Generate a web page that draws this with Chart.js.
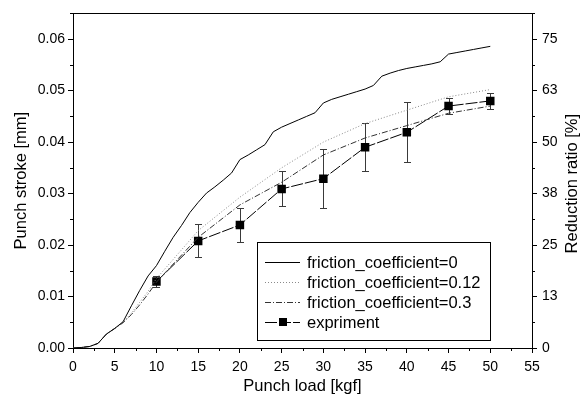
<!DOCTYPE html>
<html><head><meta charset="utf-8">
<script src="https://cdn.jsdelivr.net/npm/chart.js@4.4.1/dist/chart.umd.min.js"></script>
<style>html,body{margin:0;padding:0;background:#fff}#wrap{width:583px;height:403px;position:relative}</style>
</head><body><div id="wrap"><canvas id="c" width="583" height="403"></canvas></div>
<script>
// ---- data ----
const xTicks = [0,5,10,15,20,25,30,35,40,45,50,55];
const yTicks = [0,0.01,0.02,0.03,0.04,0.05,0.06];
const ratioLabels = ['0','13','25','38','50','63','75'];

const loadF0 = [0,1,2,3,4,5,6,7,8,9,10,11,12,13,14,15,16,17,18,19,20,21,22,23,24,25,26,27,28,29,30,31,32,33,34,35,36,37,38,39,40,41,42,43,44,45,46,47,48,49,50];
const strokeF0 = [0,0.0001,0.0003,0.0009,0.0027,0.0038,0.0051,0.0082,0.0112,0.0140,0.0160,0.0188,0.0215,0.0238,0.0263,0.0283,0.0301,0.0313,0.0326,0.0340,0.0366,0.0375,0.0385,0.0395,0.0420,0.0429,0.0436,0.0443,0.0450,0.0457,0.0476,0.0483,0.0488,0.0493,0.0498,0.0503,0.0510,0.0528,0.0534,0.0539,0.0543,0.0546,0.0549,0.0552,0.0556,0.0571,0.0574,0.0577,0.0580,0.0583,0.0586];

const loadF = [0,1,2,3,4,5,6,7,8,9,10,12,15,20,25,30,35,40,45,50];
const strokeF012 = [0,0.0001,0.0003,0.0009,0.0027,0.0038,0.0050,0.0068,0.0089,0.0110,0.0135,0.0172,0.0228,0.0293,0.0350,0.0400,0.0436,0.0462,0.0488,0.0502];
const strokeF03  = [0,0.0001,0.0003,0.0009,0.0027,0.0038,0.0049,0.0065,0.0084,0.0105,0.0128,0.0163,0.0215,0.0278,0.0322,0.0375,0.0408,0.0432,0.0456,0.0470];

const loadExp = [10,15,20,25,30,35,40,45,50];
const strokeExp = [0.0129,0.0208,0.0239,0.0309,0.0329,0.0390,0.0419,0.0470,0.0480];
const errExp = [0.0011,0.0032,0.0033,0.0034,0.0058,0.0047,0.0058,0.0015,0.0015];

const seriesLabels = ['friction_coefficient=0','friction_coefficient=0.12','friction_coefficient=0.3','expriment'];
const xTitle = 'Punch load [kgf]';
const yTitle = 'Punch stroke [mm]';
const y2Title = 'Reduction ratio [%]';

const FONT = "'Liberation Sans', Arial, sans-serif";
const pts = (xs, ys) => xs.map((x,i)=>({x, y: ys[i]}));

const deco = {
  id: 'deco',
  beforeDatasetsDraw(chart){
    const ctx = chart.ctx, xs = chart.scales.x, ys = chart.scales.y;
    ctx.save();
    ctx.strokeStyle = '#3a3a3a'; ctx.lineWidth = 1;
    loadExp.forEach((l,i)=>{
      const px = Math.round(xs.getPixelForValue(l)) + 0.5;
      const top = Math.round(ys.getPixelForValue(strokeExp[i] + errExp[i])) + 0.5;
      const bot = Math.round(ys.getPixelForValue(strokeExp[i] - errExp[i])) + 0.5;
      ctx.beginPath();
      ctx.moveTo(px, top); ctx.lineTo(px, bot);
      ctx.moveTo(px-3.5, top); ctx.lineTo(px+3.5, top);
      ctx.moveTo(px-3.5, bot); ctx.lineTo(px+3.5, bot);
      ctx.stroke();
    });
    ctx.restore();
  },
  afterDraw(chart){
    const ctx = chart.ctx, a = chart.chartArea, xs = chart.scales.x, ys = chart.scales.y;
    ctx.save();
    ctx.strokeStyle = '#000'; ctx.lineWidth = 1;
    // top frame line
    ctx.beginPath();
    ctx.moveTo(a.left, Math.round(a.top)+0.5); ctx.lineTo(a.right+0.5, Math.round(a.top)+0.5);
    ctx.stroke();
    // minor ticks
    ctx.beginPath();
    for (let i=0;i<xTicks.length-1;i++){
      const v = (xTicks[i]+xTicks[i+1])/2;
      const px = Math.round(xs.getPixelForValue(v))+0.5;
      ctx.moveTo(px, a.bottom); ctx.lineTo(px, a.bottom+3);
    }
    for (let i=0;i<yTicks.length;i++){
      const v = yTicks[i] + 0.005;
      const py = Math.round(ys.getPixelForValue(v))+0.5;
      ctx.moveTo(a.left, py); ctx.lineTo(a.left-3, py);
      ctx.moveTo(a.right, py); ctx.lineTo(a.right+3, py);
    }
    ctx.stroke();
    // axis titles
    ctx.fillStyle = '#000';
    ctx.font = '16.5px ' + FONT;
    ctx.textAlign = 'center'; ctx.textBaseline = 'middle';
    ctx.fillText(xTitle, (a.left+a.right)/2, 386);
    ctx.save(); ctx.translate(21, (a.top+a.bottom)/2); ctx.rotate(-Math.PI/2); ctx.fillText(yTitle, 0, 0); ctx.restore();
    ctx.save(); ctx.translate(572, (a.top+a.bottom)/2 + 3); ctx.rotate(-Math.PI/2); ctx.fillText(y2Title, 0, 0); ctx.restore();
    // legend box
    const L = 257, T = 242, R = 490, B = 340;
    ctx.fillStyle = '#fff';
    ctx.fillRect(L, T, R-L, B-T);
    ctx.strokeRect(L+0.5, T+0.5, R-L, B-T);
    const rows = [262, 281.5, 301.5, 321.5];
    chart.data.datasets.forEach((ds, i)=>{
      const y = Math.round(rows[i]) + 0.5;
      ctx.save();
      ctx.strokeStyle = ds.borderColor; ctx.lineWidth = ds.borderWidth || 1;
      ctx.setLineDash(ds.borderDash || []);
      ctx.beginPath(); ctx.moveTo(265, y); ctx.lineTo(300, y); ctx.stroke();
      ctx.setLineDash([]);
      if (ds.pointRadius > 0){
        ctx.fillStyle = ds.backgroundColor;
        ctx.fillRect(279, y-4.5, 8, 8);
      }
      ctx.fillStyle = '#000';
      ctx.font = '16.5px ' + FONT;
      ctx.textAlign = 'left'; ctx.textBaseline = 'middle';
      ctx.fillText(ds.label, 307, y+1);
      ctx.restore();
    });
    ctx.restore();
  }
};

const tickFont = { family: FONT, size: 14 };
const gridCfg = { drawOnChartArea: false, drawTicks: true, tickLength: 5, color: '#000', tickColor: '#000' };

new Chart(document.getElementById('c'), {
  type: 'line',
  data: {
    datasets: [
      { label: seriesLabels[0], data: pts(loadF0, strokeF0), borderColor: '#000', borderWidth: 1, pointRadius: 0, tension: 0, yAxisID: 'y' },
      { label: seriesLabels[1], data: pts(loadF, strokeF012), borderColor: '#8a8a8a', borderWidth: 1, borderDash: [1,2], pointRadius: 0, tension: 0, yAxisID: 'y' },
      { label: seriesLabels[2], data: pts(loadF, strokeF03), borderColor: '#333', borderWidth: 1, borderDash: [6,2,1,2], pointRadius: 0, tension: 0, yAxisID: 'y' },
      { label: seriesLabels[3], data: pts(loadExp, strokeExp), borderColor: '#000', backgroundColor: '#000', borderWidth: 1, borderDash: [12,2], pointStyle: 'rect', pointRadius: 6, pointBorderWidth: 0, tension: 0, yAxisID: 'y' }
    ]
  },
  options: {
    responsive: false, animation: false, devicePixelRatio: 1,
    layout: { padding: { top: 11, left: 0, right: 0, bottom: 0 } },
    plugins: { legend: { display: false }, tooltip: { enabled: false } },
    scales: {
      x: {
        type: 'linear', min: 0, max: 55, position: 'bottom',
        afterBuildTicks: s => { s.ticks = xTicks.map(v=>({value:v})); },
        afterFit: s => { s.height = 55; },
        ticks: { font: tickFont, color: '#000', padding: 6, maxRotation: 0, callback: v => String(v) },
        grid: gridCfg, border: { display: true, color: '#000', width: 1 }
      },
      y: {
        type: 'linear', min: 0, max: 0.065, position: 'left',
        afterBuildTicks: s => { s.ticks = yTicks.map(v=>({value:v})); },
        afterFit: s => { s.width = 73; },
        ticks: { font: tickFont, color: '#000', padding: 3, callback: v => Number(v).toFixed(2) },
        grid: gridCfg, border: { display: true, color: '#000', width: 1 }
      },
      y2: {
        type: 'linear', min: 0, max: 0.065, position: 'right',
        afterBuildTicks: s => { s.ticks = yTicks.map(v=>({value:v})); },
        afterFit: s => { s.width = 51; },
        ticks: { font: tickFont, color: '#000', padding: 5, callback: (v, i) => ratioLabels[i] },
        grid: gridCfg, border: { display: true, color: '#000', width: 1 }
      }
    }
  },
  plugins: [deco]
});
</script></body></html>
